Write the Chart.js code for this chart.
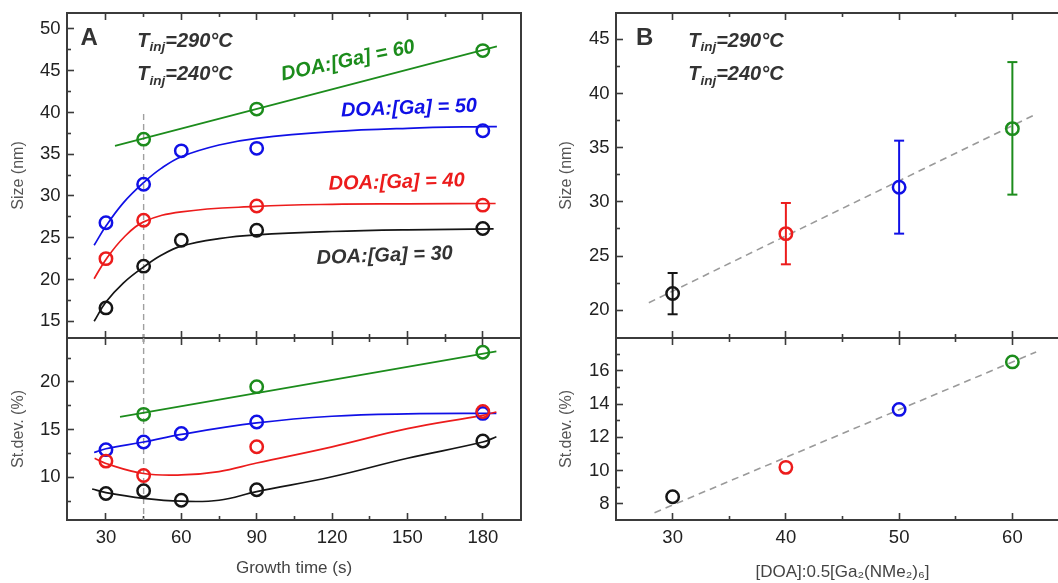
<!DOCTYPE html>
<html><head><meta charset="utf-8">
<script src="https://cdn.jsdelivr.net/npm/chart.js@4/dist/chart.umd.min.js"></script>
<style>
html,body{margin:0;padding:0;background:#fff;overflow:hidden;}
#wrap{position:relative;width:1058px;height:583px;overflow:hidden;background:#fff;}
canvas{position:absolute;}
</style></head><body>
<div id="wrap">
<canvas id="aTop"></canvas><canvas id="aBot"></canvas><canvas id="bTop"></canvas><canvas id="bBot"></canvas>
</div>
<script>
// ---------------- DATA ----------------
// Panel A : growth time (s) vs size / st.dev.
const timeBlack = [30, 45, 60, 90, 180];
const sizeBlack = [16.6, 21.6, 24.7, 25.9, 26.1];
const sdBlack   = [8.3, 8.6, 7.6, 8.7, 13.8];
const timeRed   = [30, 45, 90, 180];
const sizeRed   = [22.5, 27.1, 28.8, 28.9];
const sdRed     = [11.7, 10.2, 13.2, 16.9];
const timeBlue  = [30, 45, 60, 90, 180];
const sizeBlue  = [26.8, 31.4, 35.4, 35.7, 37.8];
const sdBlue    = [12.9, 13.7, 14.6, 15.8, 16.7];
const timeGreen = [45, 90, 180];
const sizeGreen = [36.8, 40.4, 47.4];
const sdGreen   = [16.6, 19.5, 23.1];

// fitted curves
const fitSizeBlackT = [25.3, 30, 37, 45, 52, 60, 75, 90, 120, 150, 184.3];
const fitSizeBlackV = [15.0, 17.3, 19.6, 21.5, 22.9, 24.0, 24.9, 25.35, 25.75, 25.95, 26.05];
const fitSizeRedT   = [25.3, 30, 37, 45, 60, 90, 120, 150, 185.1];
const fitSizeRedV   = [20.1, 22.4, 25.0, 26.9, 28.1, 28.75, 29.0, 29.05, 29.1];
const fitSizeBlueT  = [25.3, 30, 37, 45, 52, 60, 75, 90, 120, 150, 180, 185.6];
const fitSizeBlueV  = [24.1, 26.4, 29.2, 31.6, 33.3, 34.7, 36.1, 36.9, 37.7, 38.1, 38.3, 38.3];
const fitSizeGreenT = [33.6, 185.6];
const fitSizeGreenV = [36.0, 47.9];

const fitSdBlackT = [24.5, 30, 45, 60, 75, 90, 120, 150, 180, 185.4];
const fitSdBlackV = [8.78, 8.4, 7.8, 7.5, 7.6, 8.5, 10.06, 12.0, 13.7, 14.25];
const fitSdRedT   = [25.5, 30, 45, 60, 75, 90, 120, 150, 180, 185.4];
const fitSdRedV   = [12.0, 11.45, 10.4, 10.25, 10.6, 11.5, 13.2, 15.1, 16.5, 16.85];
const fitSdBlueT  = [25.3, 30, 45, 60, 90, 120, 150, 185.4];
const fitSdBlueV  = [12.6, 13.0, 13.7, 14.5, 15.7, 16.4, 16.65, 16.7];
const fitSdGreenT = [35.6, 185.4];
const fitSdGreenV = [16.34, 23.2];

// vertical guide at 45 s
const guideT     = [45, 45];
const guideSizeV = [39.8, 13.0];
const guideSdV   = [24.6, 5.5];

// Panel B : DOA ratio
const ratio      = [30, 40, 50, 60];
const bSize      = [21.55, 27.07, 31.35, 36.76];
const bSizeLow   = [19.63, 24.24, 27.07, 30.67];
const bSizeHigh  = [23.44, 29.90, 35.65, 42.90];
const bSd        = [8.42, 10.19, 13.68, 16.54];
const bFitSizeX  = [27.9, 61.9];
const bFitSizeY  = [20.7, 38.0];
const bFitSdX    = [28.4, 62.1];
const bFitSdY    = [7.46, 17.14];

// tick labels
const timeTicks      = [30, 60, 90, 120, 150, 180];
const timeMinor      = [45, 75, 105, 135, 165];
const sizeTicksA     = [15, 20, 25, 30, 35, 40, 45, 50];
const sizeMinorA     = [17.5, 22.5, 27.5, 32.5, 37.5, 42.5, 47.5];
const sdTicksA       = [10, 15, 20];
const sdMinorA       = [7.5, 12.5, 17.5, 22.5];
const ratioTicks     = [30, 40, 50, 60];
const ratioMinor     = [35, 45, 55];
const sizeTicksB     = [20, 25, 30, 35, 40, 45];
const sizeMinorB     = [22.5, 27.5, 32.5, 37.5, 42.5];
const sdTicksB       = [8, 10, 12, 14, 16];
const sdMinorB       = [9, 11, 13, 15, 17];

// ---------------- STYLE ----------------
const FAM = '"Liberation Sans", Arial, Helvetica, sans-serif';
const FRAME = '#3b3b3b';
const C = {black:'#151515', red:'#ec1c1c', blue:'#1010e6', green:'#1c8c1c', dark:'#333333'};
const pointColors = [C.black, C.red, C.blue, C.green];

const zip = (xs, ys) => xs.map((x, i) => ({x: x, y: ys[i]}));

function markers(xs, ys, color) {
  return {data: zip(xs, ys), showLine: false, pointStyle: 'circle', pointRadius: 6.2,
    pointBorderWidth: 2.5, pointBorderColor: color, pointBackgroundColor: 'rgba(0,0,0,0)',
    borderColor: color, xAxisID: 'x', yAxisID: 'y', order: 0};
}
function curve(xs, ys, color) {
  return {data: zip(xs, ys), showLine: true, borderColor: color, borderWidth: 1.7, pointRadius: 0,
    tension: 0.4, fill: false, xAxisID: 'x', yAxisID: 'y', order: 2};
}
function dashed(xs, ys, color, w, dash) {
  return {data: zip(xs, ys), showLine: true, borderColor: color, borderWidth: w, borderDash: dash,
    pointRadius: 0, fill: false, tension: 0, xAxisID: 'x', yAxisID: 'y', order: 3};
}
function errBar(x, lo, hi, color) {
  return {data: [{x: x, y: lo}, {x: x, y: hi}], showLine: true, borderColor: color, borderWidth: 2,
    pointStyle: 'line', pointRadius: 5, pointBorderWidth: 2, pointBorderColor: color,
    pointBackgroundColor: color, fill: false, xAxisID: 'x', yAxisID: 'y', order: 1};
}

function drawParts(ctx, x, y, parts, align) {
  let total = 0;
  parts.forEach(p => { ctx.font = p.font; p.w = ctx.measureText(p.t).width; total += p.w; });
  let cx = align === 'center' ? x - total / 2 : x;
  parts.forEach(p => { ctx.font = p.font; ctx.textAlign = 'left'; ctx.fillText(p.t, cx, y + (p.dy || 0)); cx += p.w; });
}
function textPlugin(items, dx, dy) {
  return {
    id: 'annot',
    afterDraw(chart) {
      const ctx = chart.ctx;
      items.forEach(it => {
        ctx.save();
        ctx.translate(it.x - dx, it.y - dy);
        ctx.rotate((it.rot || 0) * Math.PI / 180);
        ctx.fillStyle = it.color;
        ctx.textBaseline = it.baseline || 'alphabetic';
        drawParts(ctx, 0, 0, it.parts, it.align || 'left');
        ctx.restore();
      });
    }
  };
}
const BI = s => 'italic bold ' + s + 'px ' + FAM;
const tinj = (temp) => [{t: 'T', font: BI(20)}, {t: 'inj', font: BI(13.5), dy: 4.5}, {t: '=' + temp, font: BI(20)}];

function panel(id, box, area, o) {
  const cv = document.getElementById(id);
  cv.style.left = box.left + 'px'; cv.style.top = box.top + 'px';
  cv.width = box.width; cv.height = box.height;
  cv.style.width = box.width + 'px'; cv.style.height = box.height + 'px';
  const wLeft = area.left - box.left, wRight = box.left + box.width - area.right;
  const hTop = area.top - box.top, hBot = box.top + box.height - area.bottom;
  const fix = (size, key) => (s) => { s[key] = size; s.paddingTop = 0; s.paddingBottom = 0; s.paddingLeft = 0; s.paddingRight = 0; };
  const setTicks = vals => (s) => { s.ticks = vals.map(v => ({value: v})); };
  const tickGrid = (len) => ({display: true, drawOnChartArea: false, drawTicks: true, tickLength: len, tickWidth: 1.6, tickColor: FRAME});
  const noBorder = {display: false};
  const border = {display: true, color: FRAME, width: 2};
  const lab = {size: 18.5, family: FAM};
  const scales = {
    x: {type: 'linear', position: 'bottom', weight: 1, min: o.xMin, max: o.xMax, bounds: 'data',
      afterBuildTicks: setTicks(o.xTicks), afterFit: fix(hBot, 'height'),
      ticks: {display: o.xLabels, font: lab, color: '#222', padding: 14, maxRotation: 0, autoSkip: false},
      grid: tickGrid(-7), border: border,
      title: o.xTitle ? {display: true, text: o.xTitle, font: {size: 17, family: FAM}, color: '#444', padding: {top: 0, bottom: o.xTitlePad}} : {display: false}},
    xm: {type: 'linear', position: 'bottom', weight: 0, min: o.xMin, max: o.xMax, bounds: 'data',
      afterBuildTicks: setTicks(o.xMinor), afterFit: fix(0, 'height'),
      ticks: {display: false}, grid: tickGrid(-4), border: noBorder},
    xt: {type: 'linear', position: 'top', weight: 1, min: o.xMin, max: o.xMax, bounds: 'data',
      afterBuildTicks: setTicks(o.xTicks), afterFit: fix(hTop, 'height'),
      ticks: {display: false}, grid: tickGrid(o.topTicks ? -7 : 0), border: border},
    xtm: {type: 'linear', position: 'top', weight: 0, min: o.xMin, max: o.xMax, bounds: 'data',
      afterBuildTicks: setTicks(o.xMinor), afterFit: fix(0, 'height'),
      ticks: {display: false}, grid: tickGrid(o.topTicks ? -4 : 0), border: noBorder},
    y: {type: 'linear', position: 'left', weight: 1, min: o.yMin, max: o.yMax, bounds: 'data',
      afterBuildTicks: setTicks(o.yTicks), afterFit: fix(wLeft, 'width'),
      ticks: {display: true, font: lab, color: '#222', padding: 13.5},
      grid: tickGrid(-7), border: border,
      title: {display: true, text: o.yTitle, font: {size: 16, family: FAM}, color: '#555', padding: {top: o.yTitlePad, bottom: 0}}},
    ym: {type: 'linear', position: 'left', weight: 0, min: o.yMin, max: o.yMax, bounds: 'data',
      afterBuildTicks: setTicks(o.yMinor), afterFit: fix(0, 'width'),
      ticks: {display: false}, grid: tickGrid(-4), border: noBorder},
    yr: {type: 'linear', position: 'right', weight: 1, min: 0, max: 1, afterFit: fix(wRight, 'width'),
      ticks: {display: false}, grid: {display: true, drawOnChartArea: false, drawTicks: false}, border: border}
  };
  return new Chart(cv, {
    type: 'line',
    data: {datasets: o.datasets},
    options: {
      responsive: false, animation: false, devicePixelRatio: 1,
      layout: {padding: 0, autoPadding: false},
      plugins: {legend: {display: false}, tooltip: {enabled: false}},
      events: [],
      scales: scales
    },
    plugins: [textPlugin(o.texts || [], box.left, box.top)]
  });
}

Chart.defaults.font.family = FAM;

// ---------- Panel A (top) ----------
panel('aTop', {left: 0, top: 0, width: 540, height: 345}, {left: 67, top: 13, right: 521, bottom: 338}, {
  xMin: 14.5, xMax: 195.2, xTicks: timeTicks, xMinor: timeMinor, xLabels: false, topTicks: true,
  yMin: 13.0, yMax: 51.9, yTicks: sizeTicksA, yMinor: sizeMinorA, yTitle: 'Size (nm)', yTitlePad: 9,
  datasets: [
    markers(timeBlack, sizeBlack, C.black), markers(timeRed, sizeRed, C.red),
    markers(timeBlue, sizeBlue, C.blue), markers(timeGreen, sizeGreen, C.green),
    curve(fitSizeBlackT, fitSizeBlackV, C.black), curve(fitSizeRedT, fitSizeRedV, C.red),
    curve(fitSizeBlueT, fitSizeBlueV, C.blue), curve(fitSizeGreenT, fitSizeGreenV, C.green),
    dashed(guideT, guideSizeV, '#a0a0a0', 1.4, [6, 4])
  ],
  texts: [
    {x: 80.5, y: 45, color: '#333', parts: [{t: 'A', font: 'bold 24px ' + FAM}]},
    {x: 137.3, y: 46.7, color: '#333', parts: tinj('290°C')},
    {x: 137.3, y: 80, color: '#333', parts: tinj('240°C')},
    {x: 348, y: 61, rot: -12, color: C.green, align: 'center', baseline: 'middle', parts: [{t: 'DOA:[Ga] = 60', font: BI(20)}]},
    {x: 409, y: 108.5, rot: -2, color: C.blue, align: 'center', baseline: 'middle', parts: [{t: 'DOA:[Ga] = 50', font: BI(20)}]},
    {x: 396.6, y: 182.5, rot: -1.5, color: C.red, align: 'center', baseline: 'middle', parts: [{t: 'DOA:[Ga] = 40', font: BI(20)}]},
    {x: 384.7, y: 256, rot: -2, color: C.dark, align: 'center', baseline: 'middle', parts: [{t: 'DOA:[Ga] = 30', font: BI(20)}]}
  ]
});

// ---------- Panel A (bottom) ----------
panel('aBot', {left: 0, top: 330, width: 540, height: 253}, {left: 67, top: 338, right: 521, bottom: 520}, {
  xMin: 14.5, xMax: 195.2, xTicks: timeTicks, xMinor: timeMinor, xLabels: true, topTicks: true,
  xTitle: 'Growth time (s)', xTitlePad: 4.8,
  yMin: 5.53, yMax: 24.6, yTicks: sdTicksA, yMinor: sdMinorA, yTitle: 'St.dev. (%)', yTitlePad: 9,
  datasets: [
    markers(timeBlack, sdBlack, C.black), markers(timeRed, sdRed, C.red),
    markers(timeBlue, sdBlue, C.blue), markers(timeGreen, sdGreen, C.green),
    curve(fitSdBlackT, fitSdBlackV, C.black), curve(fitSdRedT, fitSdRedV, C.red),
    curve(fitSdBlueT, fitSdBlueV, C.blue), curve(fitSdGreenT, fitSdGreenV, C.green),
    dashed(guideT, guideSdV, '#a0a0a0', 1.4, [6, 4])
  ]
});

// ---------- Panel B (top) ----------
const bSizeMarkers = markers(ratio, bSize, C.black);
bSizeMarkers.pointBorderColor = pointColors;
const bSdMarkers = markers(ratio, bSd, C.black);
bSdMarkers.pointBorderColor = pointColors;

panel('bTop', {left: 530, top: 0, width: 545, height: 345}, {left: 616, top: 13, right: 1069, bottom: 338}, {
  xMin: 25, xMax: 65, xTicks: ratioTicks, xMinor: ratioMinor, xLabels: false, topTicks: true,
  yMin: 17.44, yMax: 47.43, yTicks: sizeTicksB, yMinor: sizeMinorB, yTitle: 'Size (nm)', yTitlePad: 27.4,
  datasets: [
    bSizeMarkers,
    errBar(ratio[0], bSizeLow[0], bSizeHigh[0], pointColors[0]),
    errBar(ratio[1], bSizeLow[1], bSizeHigh[1], pointColors[1]),
    errBar(ratio[2], bSizeLow[2], bSizeHigh[2], pointColors[2]),
    errBar(ratio[3], bSizeLow[3], bSizeHigh[3], pointColors[3]),
    dashed(bFitSizeX, bFitSizeY, '#9a9a9a', 1.6, [7, 5])
  ],
  texts: [
    {x: 636, y: 45, color: '#333', parts: [{t: 'B', font: 'bold 24px ' + FAM}]},
    {x: 688.2, y: 46.7, color: '#333', parts: tinj('290°C')},
    {x: 688.2, y: 80, color: '#333', parts: tinj('240°C')}
  ]
});

// ---------- Panel B (bottom) ----------
panel('bBot', {left: 530, top: 330, width: 545, height: 253}, {left: 616, top: 338, right: 1069, bottom: 520}, {
  xMin: 25, xMax: 65, xTicks: ratioTicks, xMinor: ratioMinor, xLabels: true, topTicks: true,
  xTitle: '[DOA]:0.5[Ga₂(NMe₂)₆]', xTitlePad: 0,
  yMin: 7.02, yMax: 17.98, yTicks: sdTicksB, yMinor: sdMinorB, yTitle: 'St.dev. (%)', yTitlePad: 27.4,
  datasets: [
    bSdMarkers,
    dashed(bFitSdX, bFitSdY, '#9a9a9a', 1.6, [7, 5])
  ]
});
</script>
</body></html>
